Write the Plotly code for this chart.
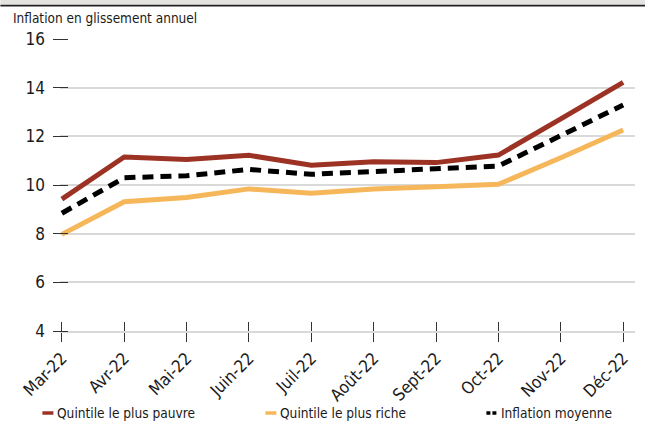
import plotly.graph_objects as go

months = ["Mar-22", "Avr-22", "Mai-22", "Juin-22", "Juil-22", "Août-22",
          "Sept-22", "Oct-22", "Nov-22", "Déc-22"]
poorest = [9.42, 11.15, 11.05, 11.22, 10.81, 10.96, 10.92, 11.23, 12.72, 14.22]
richest = [7.97, 9.31, 9.49, 9.84, 9.66, 9.84, 9.93, 10.03, 11.12, 12.26]
average = [8.84, 10.30, 10.38, 10.64, 10.44, 10.55, 10.62, 10.78, 12.03, 13.29]
y_ticks = [4, 6, 8, 10, 12, 14, 16]
title_text = "Inflation en glissement annuel"
names = ["Quintile le plus pauvre", "Quintile le plus riche", "Inflation moyenne"]

FONT = "DejaVu Sans Condensed, Liberation Sans Narrow, sans-serif"
RED = "#9c3224"
YEL = "#f6b75b"
BLK = "#000000"

W, H = 645, 426
L, R, T, B = 59.6, 10.4, 39, 95
PW = W - L - R
PH = H - T - B


def px(x):
    return (x - L) / PW


def py(y):
    return (H - B - y) / PH


fig = go.Figure()
fig.add_trace(go.Scatter(x=months, y=poorest, name=names[0], mode="lines",
                         line=dict(color=RED, width=5), showlegend=False))
fig.add_trace(go.Scatter(x=months, y=richest, name=names[1], mode="lines",
                         line=dict(color=YEL, width=5), showlegend=False))
fig.add_trace(go.Scatter(x=months, y=average, name=names[2], mode="lines",
                         line=dict(color=BLK, width=5, dash="11px,7px"), showlegend=False))
# invisible trace for overlay x axis (upper half of cross ticks)
fig.add_trace(go.Scatter(x=[0], y=[4], xaxis="x2", yaxis="y", mode="markers",
                         marker=dict(opacity=0), showlegend=False, hoverinfo="skip"))

fig.update_layout(
    width=W, height=H,
    margin=dict(l=L, r=R, t=T, b=B),
    paper_bgcolor="white", plot_bgcolor="white",
    font=dict(family=FONT, color="#1a1a1a"),
    xaxis=dict(type="category", range=[-0.03, 9.19], showgrid=False,
               ticks="outside", ticklen=9, tickwidth=1.3, tickcolor="#333",
               tickangle=-45, tickfont=dict(size=17, family=FONT, color="#1a1a1a"),
               showline=True, linecolor="#d9d9d9", linewidth=1.5, zeroline=False),
    yaxis=dict(range=[4, 16], tickvals=y_ticks, showgrid=True,
               anchor="free", position=px(68) - px(L) + 0.0,
               gridcolor="#d9d9d9", gridwidth=1.5, zeroline=False,
               ticks="outside", ticklen=15, tickwidth=1.3, tickcolor="#333",
               tickfont=dict(size=17, family=FONT, color="#1a1a1a"),
               ticklabelstandoff=5, showline=False),
    xaxis2=dict(overlaying="x", anchor="y", range=[-0.03, 9.19], tickvals=list(range(10)),
                ticks="inside", ticklen=9, tickwidth=1.3, tickcolor="#333",
                showticklabels=False, showgrid=False, zeroline=False, showline=False),
)

# top banner
fig.add_shape(type="rect", xref="paper", yref="paper", x0=px(0), x1=px(W),
              y0=py(4.8), y1=py(0), fillcolor="#e5e3df", line=dict(width=0), layer="above")
fig.add_shape(type="line", xref="paper", yref="paper", x0=px(0), x1=px(W),
              y0=py(5.6), y1=py(5.6), line=dict(color="#222", width=1.8), layer="above")

fig.add_annotation(text=title_text, xref="paper", yref="paper", x=px(11), y=py(18),
                   xanchor="left", yanchor="middle", showarrow=False,
                   font=dict(size=13.5, family=FONT, color="#1a1a1a"))

# legend
leg = [(42, RED, "solid", names[0]), (265, YEL, "solid", names[1]), (486, BLK, "dot", names[2])]
for x0, col, dash, nm in leg:
    if dash == "solid":
        fig.add_shape(type="line", xref="paper", yref="paper", x0=px(x0), x1=px(x0 + 11),
                      y0=py(413), y1=py(413), line=dict(color=col, width=3.5))
    else:
        fig.add_shape(type="line", xref="paper", yref="paper", x0=px(x0), x1=px(x0 + 11),
                      y0=py(413), y1=py(413), line=dict(color=col, width=3.5, dash="4px,2px"))
    fig.add_annotation(text=nm, xref="paper", yref="paper", x=px(x0 + 13), y=py(413),
                       xanchor="left", yanchor="middle", showarrow=False,
                       font=dict(size=13.6, family=FONT, color="#1a1a1a"))

fig.write_html("out.html", post_script="document.body.style.margin='0';",
               config={"displayModeBar": False})
